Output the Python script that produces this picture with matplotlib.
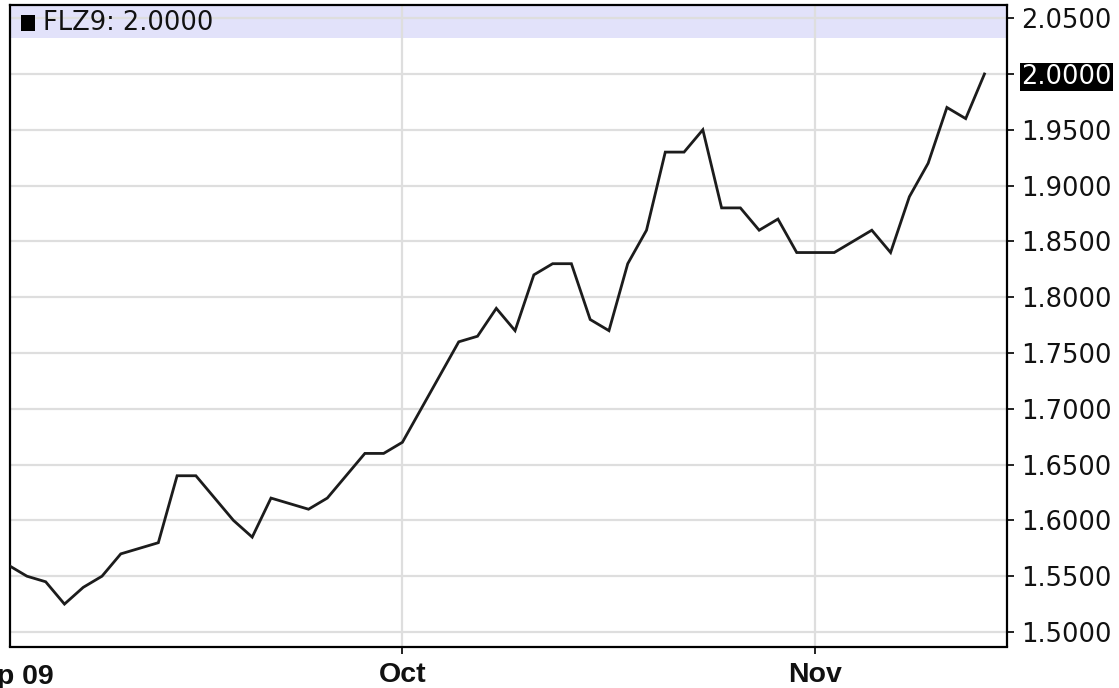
import matplotlib
matplotlib.use('Agg')
import matplotlib.pyplot as plt
import matplotlib.transforms as mtransforms
from matplotlib.patches import Rectangle
import numpy as np

# daily closes, Sep 1 2009 .. Nov 13 2009 (trading days)
prices = [1.560, 1.550, 1.545, 1.525, 1.540, 1.550, 1.570, 1.575, 1.580, 1.640,
          1.640, 1.620, 1.600, 1.585, 1.620, 1.615, 1.610, 1.620, 1.640, 1.660,
          1.660, 1.670, 1.700, 1.730, 1.760, 1.765, 1.790, 1.770, 1.820, 1.830,
          1.830, 1.780, 1.770, 1.830, 1.860, 1.930, 1.930, 1.950, 1.880, 1.880,
          1.860, 1.870, 1.840, 1.840, 1.840, 1.850, 1.860, 1.840, 1.890, 1.920,
          1.970, 1.960, 2.000]
month_pos = [0, 21, 43]
month_labels = ['Sep 09', 'Oct', 'Nov']
y_ticks = [1.50, 1.55, 1.60, 1.65, 1.70, 1.75, 1.80, 1.85, 1.90, 1.95, 2.00, 2.05]
symbol = 'FLZ9'
last_value = prices[-1]

W, H = 1119, 688
fig = plt.figure(figsize=(W / 100, H / 100), dpi=100)
fig.patch.set_facecolor('white')

# axes box in pixels
left, right, top, bottom = 10, 1007, 5, 646.5
ax = fig.add_axes([left / W, (H - bottom) / H, (right - left) / W, (bottom - top) / H])

x = np.arange(len(prices))
ax.plot(x, prices, color='#1c1c1c', linewidth=2.0, solid_joinstyle='miter', zorder=3)

ax.set_xlim(0.1, 53.2)
ax.set_ylim(1.487, 2.0618)

# legend band at the top
ax.axhspan(2.0321, 2.07, color='#e2e2fa', zorder=0.2, linewidth=0)

ax.set_axisbelow(True)
ax.grid(True, color='#dedede', linewidth=1.6)

# right side value axis
ax.yaxis.tick_right()
ax.set_yticks(y_ticks)
ax.set_yticklabels(['%.4f' % v for v in y_ticks])
ax.tick_params(axis='y', direction='out', length=5, width=1.3, pad=5,
               labelsize=18.5, labelcolor='#111111', colors='#111111')
for lbl in ax.get_yticklabels():
    lbl.set_fontfamily('DejaVu Sans')
    if lbl.get_text() == '%.4f' % last_value:
        lbl.set_color('white')
        lbl.set_bbox(dict(facecolor='black', edgecolor='none', pad=1.0))

# month axis
ax.set_xticks(month_pos[1:])
ax.set_xticklabels(month_labels[1:])
ax.tick_params(axis='x', direction='out', length=5, width=1.3, pad=6,
               labelsize=20.5, colors='#111111')
for lbl in ax.get_xticklabels():
    lbl.set_fontfamily('Liberation Sans')
    lbl.set_fontweight('bold')
# first month sits at the very left edge, its label runs off the figure
trans = mtransforms.blended_transform_factory(ax.transData, ax.transAxes)
ax.text(month_pos[0], -17 / (bottom - top), month_labels[0], transform=trans,
        ha='center', va='top', fontsize=20.5, fontweight='bold',
        family='Liberation Sans', color='#111111', clip_on=False)

for side in ['left', 'right', 'top', 'bottom']:
    ax.spines[side].set_color('black')
    ax.spines[side].set_linewidth(1.6)

# legend entry
fig.patches.append(Rectangle((21 / W, 1 - 31 / H), 14 / W, 16 / H,
                             transform=fig.transFigure, facecolor='black',
                             edgecolor='none'))
fig.text(43 / W, 1 - 23.5 / H, '%s: %.4f' % (symbol, last_value), ha='left',
         va='center', fontsize=18.5, family='DejaVu Sans', color='#111111')

fig.savefig('out.png', dpi=100, facecolor='white')
